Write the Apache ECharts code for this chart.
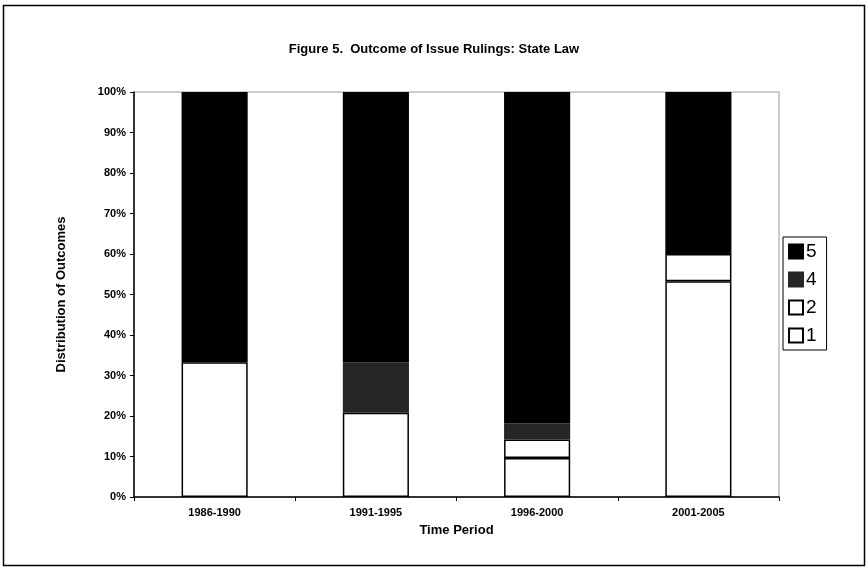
<!DOCTYPE html>
<html>
<head>
<meta charset="utf-8">
<script src="https://cdn.jsdelivr.net/npm/echarts@6/dist/echarts.min.js"></script>
<style>
  html, body { margin: 0; padding: 0; background: #fff; }
  #chart { width: 868px; height: 570px; }
</style>
</head>
<body>
<div id="chart"></div>
<script>
// time periods and share of outcomes (%), '-' = no such outcome
const periods = ['1986-1990', '1991-1995', '1996-2000', '2001-2005'];
const outcome1 = [33.3, 20.8, 9.6, 53.3];
const outcome2 = ['-', '-', 4.6, 6.7];
const outcome4 = ['-', 12.5, 4.0, '-'];
const outcome5 = [66.7, 66.7, 81.8, 40.0];
const yTicks = [0, 10, 20, 30, 40, 50, 60, 70, 80, 90, 100];

const font = 'Liberation Sans, Arial, sans-serif';

const chart = echarts.init(document.getElementById('chart'));

const barSeries = (name, data, color, border) => ({
  name: name,
  type: 'bar',
  stack: 'all',
  barWidth: '41%',
  data: data,
  itemStyle: { color: color, borderColor: border, borderWidth: 1.5 }
});

chart.setOption({
  animation: false,
  title: {
    text: 'Figure 5.  Outcome of Issue Rulings: State Law',
    left: 'center',
    top: 38,
    textStyle: { fontFamily: font, fontSize: 13, fontWeight: 'bold', color: '#000' }
  },
  legend: {
    orient: 'vertical',
    left: 783,
    top: 237,
    data: ['5', '4', '2', '1'],
    icon: 'rect',
    itemWidth: 14,
    itemHeight: 14,
    itemGap: 9,
    padding: [5, 10, 5, 5],
    borderColor: '#000',
    borderWidth: 1,
    textStyle: { fontFamily: font, fontSize: 19, color: '#000', padding: [0, 0, 0, -2] }
  },
  grid: { left: 134, right: 89, top: 92, bottom: 73, show: true, borderColor: '#999', borderWidth: 1 },
  xAxis: {
    type: 'category',
    data: periods,
    name: 'Time Period',
    nameLocation: 'middle',
    nameGap: 27,
    nameTextStyle: { fontFamily: font, fontSize: 13, fontWeight: 'bold', color: '#000' },
    axisLine: { lineStyle: { color: '#000', width: 1.5 } },
    axisTick: { show: true, length: 4, lineStyle: { color: '#000' } },
    axisLabel: { fontFamily: font, fontSize: 11, fontWeight: 'bold', color: '#000', margin: 10 }
  },
  yAxis: {
    type: 'value',
    min: 0,
    max: 100,
    interval: 10,
    name: 'Distribution of Outcomes',
    nameLocation: 'middle',
    nameGap: 66,
    nameTextStyle: { fontFamily: font, fontSize: 13, fontWeight: 'bold', color: '#000' },
    axisLine: { show: true, lineStyle: { color: '#000', width: 1.5 } },
    axisTick: { show: true, length: 4, lineStyle: { color: '#000' } },
    splitLine: { show: false },
    axisLabel: {
      fontFamily: font, fontSize: 11, fontWeight: 'bold', color: '#000', margin: 8,
      formatter: v => yTicks.includes(v) ? v + '%' : ''
    }
  },
  graphic: [{
    type: 'rect',
    shape: { x: 3.5, y: 5.5, width: 861, height: 560 },
    style: { fill: 'none', stroke: '#000', lineWidth: 1.5 }
  }],
  series: [
    barSeries('1', outcome1, '#fff', '#000'),
    barSeries('2', outcome2, '#fff', '#000'),
    barSeries('4', outcome4, '#262626', '#262626'),
    barSeries('5', outcome5, '#000', '#000')
  ]
});
</script>
</body>
</html>
